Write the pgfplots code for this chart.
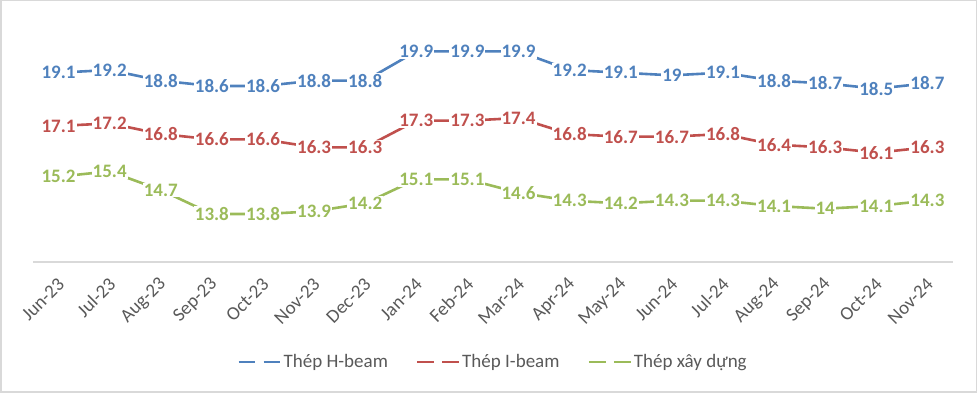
\documentclass[border=0pt]{standalone}
\usepackage{pgfplots}
\pgfplotsset{compat=1.18}
\usepackage{fontspec}
\setmainfont{Carlito}
\definecolor{hb}{HTML}{4F81BD}
\definecolor{ib}{HTML}{C0504D}
\definecolor{xd}{HTML}{9BBB59}
\definecolor{frame}{HTML}{D9D9D9}
\definecolor{txt}{HTML}{595959}
\begin{document}
\begin{tikzpicture}
\draw[draw=frame, line width=1.5pt] (0.75pt,0.75pt) rectangle (976.25pt,392.25pt);
\begin{axis}[
  at={(33pt,131pt)}, anchor=south west,
  scale only axis, width=920pt, height=240pt,
  xmin=-0.5, xmax=17.5, ymin=12, ymax=21,
  axis y line=none, axis x line*=bottom,
  x axis line style={draw=frame, line width=1.2pt, -},
  xtick={0,...,17}, major tick length=0pt,
  xticklabels={Jun-23,Jul-23,Aug-23,Sep-23,Oct-23,Nov-23,Dec-23,Jan-24,Feb-24,Mar-24,Apr-24,May-24,Jun-24,Jul-24,Aug-24,Sep-24,Oct-24,Nov-24},
  xticklabel style={xshift=5pt, yshift=-17pt, rotate=45, anchor=east, font=\fontsize{19}{19}\selectfont, text=txt},
  clip=false,
  every axis plot/.append style={line width=2.6pt},
  nodes near coords={\pgfmathprintnumber[assume math mode=true]{\pgfplotspointmeta}},
  every node near coord/.append style={anchor=center, fill=white, inner sep=1pt, font=\bfseries\fontsize{19}{19}\selectfont},
  legend columns=3,
  legend style={at={(0.5,-0.4167)}, anchor=center, draw=none, fill=none, font=\fontsize{19}{19}\selectfont, text=txt,
    /tikz/every even column/.append style={column sep=26pt}},
  legend image code/.code={\draw[#1, dash pattern=on 16.7pt off 8.3pt] (0pt,0pt) -- (41.7pt,0pt);},
]
\addplot[hb, every node near coord/.append style={text=hb}] coordinates {
(0,19.1)(1,19.2)(2,18.8)(3,18.6)(4,18.6)(5,18.8)(6,18.8)(7,19.9)(8,19.9)(9,19.9)(10,19.2)(11,19.1)(12,19)(13,19.1)(14,18.8)(15,18.7)(16,18.5)(17,18.7)};
\addlegendentry{Thép H-beam}
\addplot[ib, every node near coord/.append style={text=ib}] coordinates {
(0,17.1)(1,17.2)(2,16.8)(3,16.6)(4,16.6)(5,16.3)(6,16.3)(7,17.3)(8,17.3)(9,17.4)(10,16.8)(11,16.7)(12,16.7)(13,16.8)(14,16.4)(15,16.3)(16,16.1)(17,16.3)};
\addlegendentry{Thép I-beam}
\addplot[xd, every node near coord/.append style={text=xd}] coordinates {
(0,15.2)(1,15.4)(2,14.7)(3,13.8)(4,13.8)(5,13.9)(6,14.2)(7,15.1)(8,15.1)(9,14.6)(10,14.3)(11,14.2)(12,14.3)(13,14.3)(14,14.1)(15,14)(16,14.1)(17,14.3)};
\addlegendentry{Thép xây dựng}
\end{axis}
\end{tikzpicture}
\end{document}
